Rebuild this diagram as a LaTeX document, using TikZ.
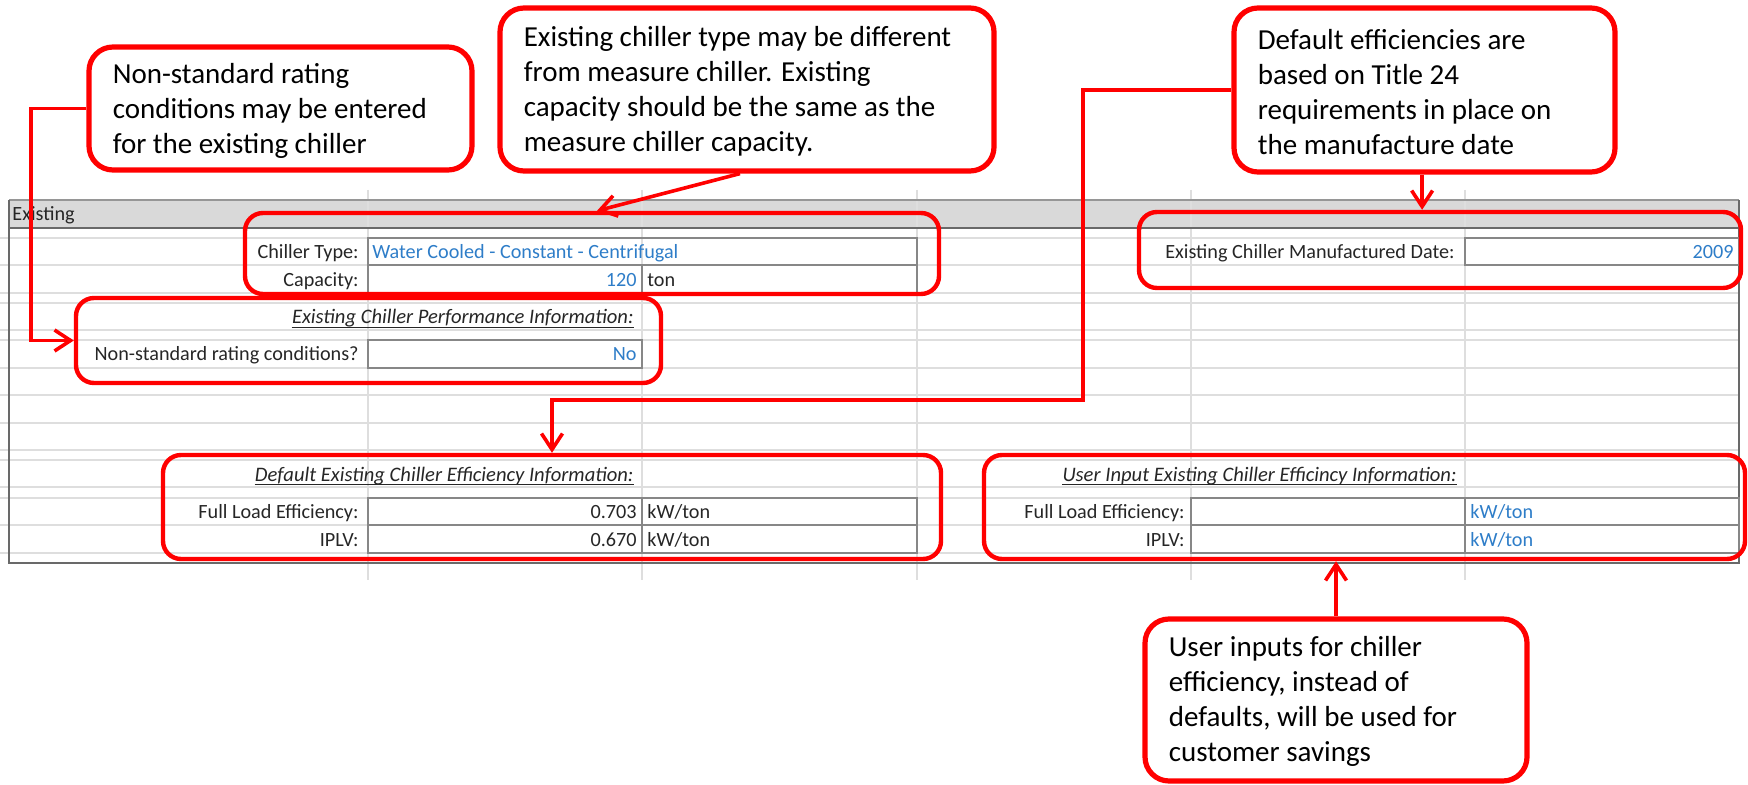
\documentclass[tikz,border=0pt]{standalone}
\usepackage{fontspec}
\setmainfont{Carlito}
\usetikzlibrary{arrows.meta,fit}

\definecolor{markred}{RGB}{255,0,0}
\definecolor{cellblue}{RGB}{46,125,200}
\definecolor{gridgray}{RGB}{222,222,222}
\definecolor{rulegray}{RGB}{105,105,105}
\definecolor{headgray}{RGB}{217,217,217}
\definecolor{ink}{RGB}{38,38,38}

\begin{document}
\begin{tikzpicture}[x=0.5pt,y=-0.5pt,
  callbox/.style={draw=markred, line width=2.6pt, rounded corners=12pt, fill=white, inner sep=0pt},
  calltext/.style={align=left, text=black, font=\fontsize{14.5}{17.5}\selectfont,
    inner sep=0pt, anchor=west},
  hl/.style={draw=markred, line width=2.2pt, rounded corners=9pt, inner sep=0pt},
  conn/.style={draw=markred, line width=1.8pt, -{Straight Barb[length=8pt,width=10.5pt]}},
  cell/.style={font=\fontsize{10.1}{12}\selectfont, text=ink, inner sep=0pt},
  lab/.style={cell, anchor=base east},
  val/.style={cell, anchor=base east, text=cellblue},
  unit/.style={cell, anchor=base west},
  head/.style={cell, anchor=base east, font=\fontsize{10.3}{12}\selectfont\itshape},
  grid/.style={draw=gridgray, line width=0.7pt},
  cellrule/.style={draw=rulegray!80, line width=0.7pt}
]
\useasboundingbox (0,0) rectangle (1748,785);

% ---------- worksheet background ----------
\fill[headgray] (9,200) rectangle (1739,228);
\foreach \y in {238,265,293,303,330,340,368,395,423,450,460,487,498,525,553}
  \draw[grid] (0,\y) -- (1739,\y);
\foreach \x in {368,642,917,1191,1465}
  \draw[grid] (\x,190) -- (\x,580);
\draw[draw=rulegray!70, line width=0.8pt] (9,200) -- (1739,200);
\draw[draw=rulegray, line width=1.2pt] (9,228) -- (1739,228);
\draw[draw=rulegray, line width=1pt] (9,200) -- (9,563) -- (1739,563) -- (1739,200);

% ---------- input cells ----------
\draw[cellrule] (368,238) rectangle (917,265);
\draw[cellrule] (368,265) rectangle (917,293);
\draw[cellrule] (642,265) -- (642,293);
\draw[cellrule] (368,340) rectangle (642,368);
\draw[cellrule] (368,498) rectangle (917,553);
\draw[cellrule] (368,525) -- (917,525);
\draw[cellrule] (642,498) -- (642,553);
\draw[cellrule] (1465,238) rectangle (1739,265);
\draw[cellrule] (1191,498) rectangle (1739,553);
\draw[cellrule] (1191,525) -- (1739,525);
\draw[cellrule] (1465,498) -- (1465,553);

% ---------- worksheet text ----------
\node[cell, anchor=base west] (sec) at (12,221) {Existing};

\node[lab] (typeL) at (359,259) {Chiller Type:};
\node[cell, anchor=base west, text=cellblue] (typeV) at (372,259) {Water Cooled - Constant - Centrifugal};
\node[lab] (capL) at (359,287) {Capacity:};
\node[val] (capV) at (637,287) {120};
\node[unit] (capU) at (647,287) {ton};

\node[head] (perfH) at (634,324) {Existing Chiller Performance Information:};
\draw[ink, line width=0.6pt] ([yshift=-1.6pt]perfH.base west) -- ([yshift=-1.6pt]perfH.base east);
\node[lab] (nsL) at (359,361) {Non-standard rating conditions?};
\node[val] (nsV) at (637,361) {No};

\node[lab] (dateL) at (1455,259) {Existing Chiller Manufactured Date:};
\node[val] (dateV) at (1734,259) {2009};

\node[head] (defH) at (634,481) {Default Existing Chiller Efficiency Information:};
\draw[ink, line width=0.6pt] ([yshift=-1.6pt]defH.base west) -- ([yshift=-1.6pt]defH.base east);
\node[lab] (flL) at (359,518) {Full Load Efficiency:};
\node[val, text=ink] (flV) at (637,518) {0.703};
\node[unit] (flU) at (647,518) {kW/ton};
\node[lab] (ipL) at (359,546) {IPLV:};
\node[val, text=ink] (ipV) at (637,546) {0.670};
\node[unit] (ipU) at (647,546) {kW/ton};

\node[head] (usrH) at (1457,481) {User Input Existing Chiller Efficincy Information:};
\draw[ink, line width=0.6pt] ([yshift=-1.6pt]usrH.base west) -- ([yshift=-1.6pt]usrH.base east);
\node[lab] (uflL) at (1185,518) {Full Load Efficiency:};
\node[unit, text=cellblue] (uflU) at (1470,518) {kW/ton};
\node[lab] (uipL) at (1185,546) {IPLV:};
\node[unit, text=cellblue] (uipU) at (1470,546) {kW/ton};

% ---------- highlighted groups ----------
\node[hl, fit={(245,213) (939,294)}] (boxA) {};
\node[hl, fit={(76,298) (661,383)}] (boxB) {};
\node[hl, fit={(1139,212) (1741,288)}] (boxC) {};
\node[hl, fit={(163,455) (941,559)}] (boxD) {};
\node[hl, fit={(984,455) (1745,559)}] (boxE) {};

% ---------- callouts ----------
\node[callbox, fit={(89,47) (472,170)}] (c1) {};
\node[calltext] (c1t) at ([xshift=13pt,yshift=-1.2pt]c1.west)
  {Non-standard rating\\conditions may be entered\\for the existing chiller};
\node[callbox, fit={(500,8) (994,171)}] (c2) {};
\node[calltext] (c2t) at ([xshift=13pt,yshift=-0.8pt]c2.west)
  {Existing chiller type may be different\\from measure chiller. Existing\\capacity should be the same as the\\measure chiller capacity.};
\node[callbox, fit={(1234,8) (1615,172)}] (c3) {};
\node[calltext] (c3t) at ([xshift=13pt,yshift=-0.8pt]c3.west)
  {Default efficiencies are\\based on Title 24\\requirements in place on\\the manufacture date};
\node[callbox, fit={(1145,619) (1527,781)}] (c4) {};
\node[calltext] (c4t) at ([xshift=13pt,yshift=-0.5pt]c4.west)
  {User inputs for chiller\\efficiency, instead of\\defaults, will be used for\\customer savings};

% ---------- leaders ----------
\coordinate (k1) at (31,300);
\coordinate (k2) at (1083,400);
\draw[conn] (c1.west) -| (k1) |- (boxB.west);
\draw[conn] ([xshift=-3.5pt]c2.south) -- ([xshift=2.5pt]boxA.north);
\draw[conn] ([xshift=-1.2pt]c3.south) -- ([xshift=-1.2pt]c3.south |- boxC.north);
\draw[conn] (c3.west) -| (k2) -| (boxD.north);
\draw[conn] (c4.north) -- (c4.north |- boxE.south);
\end{tikzpicture}
\end{document}
